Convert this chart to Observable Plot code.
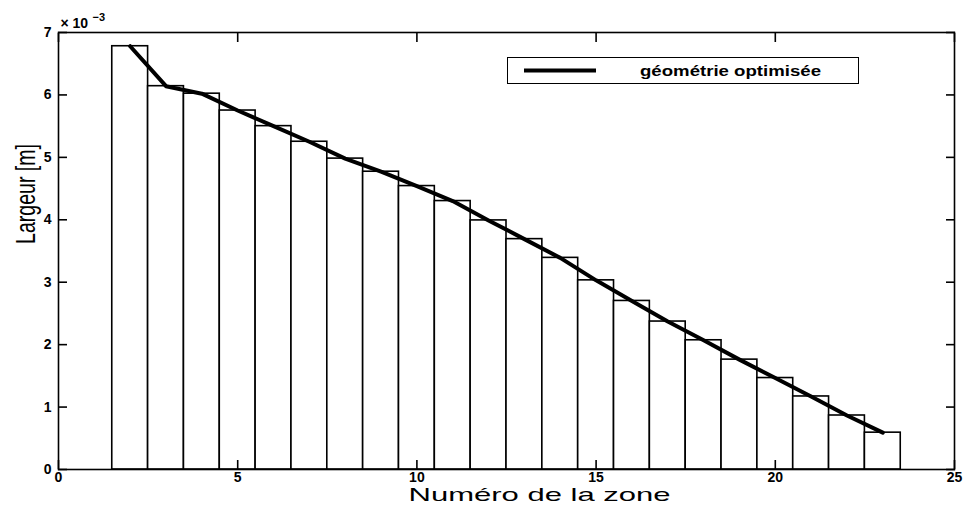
<!DOCTYPE html>
<html><head><meta charset="utf-8">
<script src="https://cdn.jsdelivr.net/npm/d3@7"></script>
<script src="https://cdn.jsdelivr.net/npm/@observablehq/plot@0.6"></script>
<style>
body{margin:0;background:#fff;}
#wrap{position:relative;width:965px;height:506px;overflow:hidden;}
#legend{position:absolute;left:507px;top:57px;width:352px;height:27px;border:1.5px solid #000;background:#fff;box-sizing:border-box;}
</style></head><body>
<div id="wrap"></div>
<script>
const zones = [2,3,4,5,6,7,8,9,10,11,12,13,14,15,16,17,18,19,20,21,22,23];
const largeur = [6.78,6.14,6.02,5.75,5.50,5.25,4.98,4.77,4.54,4.30,3.99,3.69,3.39,3.03,2.70,2.37,2.07,1.76,1.465,1.17,0.865,0.59];
const xTicks = [0,5,10,15,20,25];
const yTicks = [0,1,2,3,4,5,6,7];
const legendLabel = "géométrie optimisée";
const xLabel = "Numéro de la zone";
const yLabel = "Largeur [m]";
const yBase = "× 10";
const yExp = "−3";

const data = zones.map((z, i) => ({zone: z, w: largeur[i]}));
const font = "'Liberation Sans', Arial, Helvetica, sans-serif";
const noText = () => "";
const intText = d => String(d);

const plot = Plot.plot({
  width: 965, height: 506,
  marginLeft: 58, marginRight: 11, marginTop: 32, marginBottom: 37,
  x: {domain: [0, 25]},
  y: {domain: [0, 7]},
  style: {fontFamily: font, background: "white", color: "black", overflow: "visible"},
  marks: [
    Plot.rectY(data, {x1: d => d.zone - 0.5, x2: d => d.zone + 0.5, y: "w", fill: "white", stroke: "black", strokeWidth: 1.6}),
    Plot.line(data, {x: "zone", y: "w", stroke: "black", strokeWidth: 4, strokeLinejoin: "round"}),
    Plot.frame({stroke: "black", strokeWidth: 1.6}),
    Plot.axisX({anchor: "bottom", ticks: xTicks, tickSize: -9, tickFormat: noText, label: null, strokeWidth: 1.6}),
    Plot.axisX({anchor: "top", ticks: xTicks, tickSize: -9, tickFormat: noText, label: null, strokeWidth: 1.6}),
    Plot.axisY({anchor: "left", ticks: yTicks, tickSize: -9, tickFormat: noText, label: null, strokeWidth: 1.6}),
    Plot.axisY({anchor: "right", ticks: yTicks, tickSize: -9, tickFormat: noText, label: null, strokeWidth: 1.6}),
    Plot.axisX({anchor: "bottom", ticks: xTicks, tickSize: 0, tickPadding: 3, tickFormat: intText, label: null, fontSize: 14, fontWeight: "bold"}),
    Plot.axisY({anchor: "left", ticks: yTicks, tickSize: 0, tickPadding: 7, tickFormat: intText, label: null, fontSize: 14, fontWeight: "bold"}),
    Plot.text([yBase], {frameAnchor: "top-left", dx: 2, dy: -5, textAnchor: "start", lineAnchor: "bottom", fontSize: 14, fontWeight: "bold"}),
    Plot.text([yExp], {frameAnchor: "top-left", dx: 34, dy: -12, textAnchor: "start", lineAnchor: "bottom", fontSize: 11, fontWeight: "bold"}),
    Plot.text([xLabel], {frameAnchor: "bottom", dx: 33, dy: 25, lineAnchor: "middle", fontSize: 19}),
    Plot.text([yLabel], {frameAnchor: "left", dx: -32, dy: -7, rotate: -90, lineAnchor: "middle", fontSize: 27})
  ]
});

plot.querySelectorAll("text").forEach(t => {
  if (t.textContent === xLabel) { t.setAttribute("textLength", 262); t.setAttribute("lengthAdjust", "spacingAndGlyphs"); }
  if (t.textContent === yLabel) { t.setAttribute("textLength", 100); t.setAttribute("lengthAdjust", "spacingAndGlyphs"); }
});

const wrap = document.getElementById("wrap");
wrap.appendChild(plot);

// legend box overlay
const leg = document.createElement("div");
leg.id = "legend";
const ns = "http://www.w3.org/2000/svg";
const ls = document.createElementNS(ns, "svg");
ls.setAttribute("width", 349); ls.setAttribute("height", 24);
const ln = document.createElementNS(ns, "line");
ln.setAttribute("x1", 16); ln.setAttribute("x2", 88); ln.setAttribute("y1", 12.5); ln.setAttribute("y2", 12.5);
ln.setAttribute("stroke", "black"); ln.setAttribute("stroke-width", 4);
ls.appendChild(ln);
const lt = document.createElementNS(ns, "text");
lt.setAttribute("x", 132); lt.setAttribute("y", 17.5);
lt.setAttribute("font-family", font); lt.setAttribute("font-size", 15); lt.setAttribute("font-weight", "bold");
lt.setAttribute("textLength", 181); lt.setAttribute("lengthAdjust", "spacingAndGlyphs");
lt.textContent = legendLabel;
ls.appendChild(lt);
leg.appendChild(ls);
wrap.appendChild(leg);
</script>
</body></html>
